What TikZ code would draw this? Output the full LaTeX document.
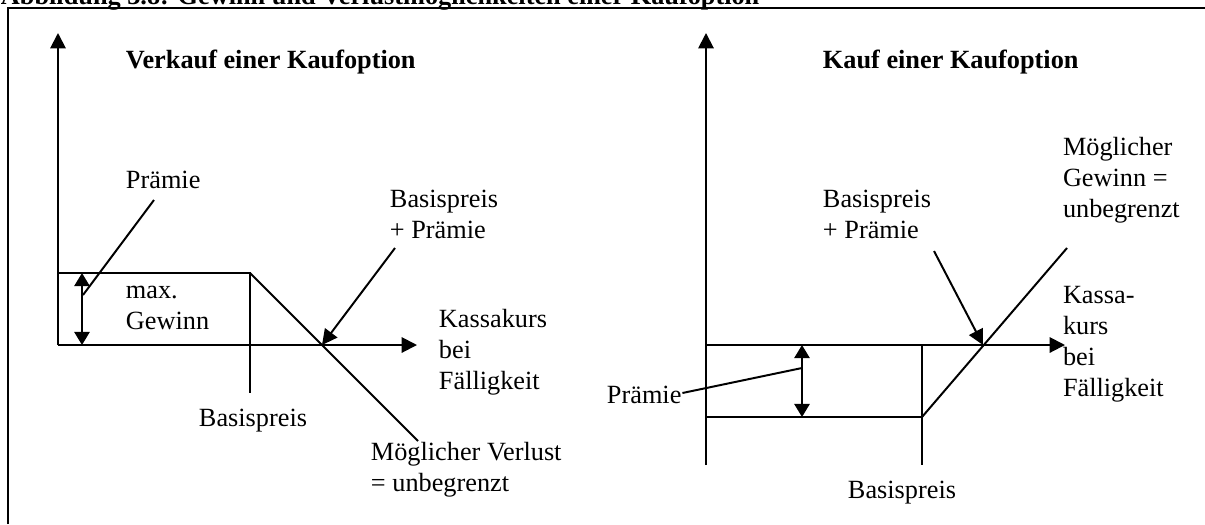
\documentclass[tikz,border=0pt]{standalone}
\usepackage{fontspec}
\setmainfont{Liberation Serif}
\usetikzlibrary{arrows.meta}
\newcommand\lblfont{\fontsize{12}{14.15}\selectfont}
\begin{document}
\begin{tikzpicture}[x=0.4566pt,y=-0.4566pt,line width=0.9pt,
  tip/.style={-{Triangle[length=7pt,width=7pt]}},
  both/.style={{Triangle[length=6pt,width=7pt]}-{Triangle[length=6pt,width=7pt]}},
  lbl/.style={anchor=north west,inner sep=0pt,font=\lblfont,align=left,
              yshift=9.9pt,execute at begin node=\strut},
  ttl/.style={lbl,font=\lblfont\bfseries}]
\useasboundingbox (0,0) rectangle (1205,524);

% caption and frame
\node[anchor=base west,inner sep=0pt,font=\lblfont\bfseries] (caption) at (0,4)
  {Abbildung 3.8: Gewinn und Verlustmöglichkeiten einer Kaufoption};
\draw (8,524) -- (8,8) -- (1205,8);

% ---------- left: writing a call ----------
\coordinate (Lo) at (58,345);
\coordinate (Ly) at (58,33);
\coordinate (Lx) at (417,345);
\coordinate (Lp) at (58,273);
\coordinate (Lk) at (250,273);
\coordinate (Lkb) at (250,393);
\coordinate (Lend) at (418,441);
\coordinate (Lbe) at (322,345);
\coordinate (Ldt) at (82,273);
\coordinate (Ldb) at (82,345);
\coordinate (Lpm) at (83,295);

\draw[tip] (Lo) -- (Ly);
\draw[tip] (Lo) -- (Lx);
\draw (Lp) -- (Lk) -- (Lkb);
\draw (Lk) -- (Lend);
\draw[both] (Ldt) -- (Ldb);

\node[ttl] (Lt) at (125,67) {Verkauf einer Kaufoption};
\node[lbl] (Lpr) at (125,187) {Prämie};
\node[lbl] (Lmax) at (125,307) {max.\\Gewinn};
\node[lbl] (Lbp) at (198,425) {Basispreis};
\node[lbl] (Lbpp) at (389,211) {Basispreis\\+ Prämie};
\node[lbl] (Lkk) at (438,330) {Kassakurs\\bei\\Fälligkeit};
\node[lbl] (Lml) at (370,463) {Möglicher Verlust\\= unbegrenzt};

\coordinate (Lprs) at (154,200);
\coordinate (Lbpps) at (395,248);
\draw (Lprs) -- (Lpm);
\draw[tip] (Lbpps) -- (Lbe);

% ---------- right: buying a call ----------
\coordinate (Ro) at (706,345);
\coordinate (Rb) at (706,465);
\coordinate (Ry) at (706,33);
\coordinate (Rx) at (1065,345);
\coordinate (Rl) at (706,417);
\coordinate (Rk) at (922,417);
\coordinate (Rkt) at (922,345);
\coordinate (Rkb) at (922,465);
\coordinate (Rend) at (1067,248);
\coordinate (Rbe) at (983,345);
\coordinate (Rdt) at (802,345);
\coordinate (Rdb) at (802,417);
\coordinate (Rpm) at (802,368);

\draw[tip] (Rb) -- (Ry);
\draw[tip] (Ro) -- (Rx);
\draw (Rl) -- (Rk);
\draw (Rkt) -- (Rkb);
\draw (Rk) -- (Rend);
\draw[both] (Rdt) -- (Rdb);

\node[ttl] (Rt) at (822,67) {Kauf einer Kaufoption};
\node[lbl] (Rmg) at (1062,158) {Möglicher\\Gewinn =\\unbegrenzt};
\node[lbl] (Rbpp) at (822,211) {Basispreis\\+ Prämie};
\node[lbl] (Rkk) at (1062,307) {Kassa-\\kurs\\bei\\Fälligkeit};
\node[lbl] (Rpr) at (606,402) {Prämie};
\node[lbl] (Rbp) at (847,497) {Basispreis};

\coordinate (Rbpps) at (934,251);
\draw (Rpr.east |- 0,393) -- (Rpm);
\draw[tip] (Rbpps) -- (Rbe);
\end{tikzpicture}
\end{document}
